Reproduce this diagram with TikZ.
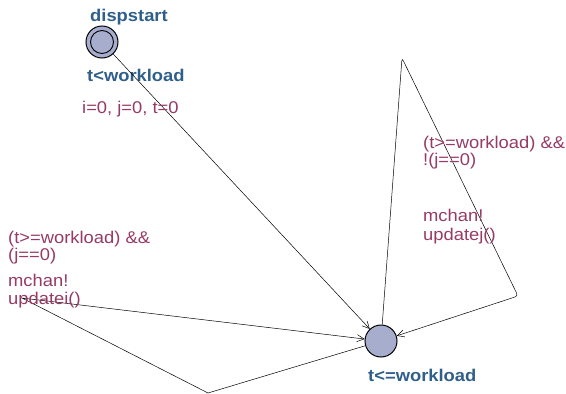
\documentclass[tikz,border=0pt]{standalone}
\usepackage{fontspec}
\setmainfont[FakeStretch=1.08]{Liberation Sans}
\usetikzlibrary{arrows.meta}

\definecolor{locfill}{HTML}{A7AECD}
\definecolor{locname}{HTML}{2F5F8A}
\definecolor{edgelabel}{HTML}{963A66}

\begin{document}
\begin{tikzpicture}[
        x=1pt, y=-1pt,
        location/.style={
            draw,
            circle,
            fill=locfill,
            line width=1pt,
            minimum size=32pt,
            inner sep=0pt
        },
        inner ring/.style={
            draw,
            circle,
            line width=0.9pt,
            minimum size=23pt,
            inner sep=0pt
        },
        locname/.style={
            text=locname,
            font=\fontsize{17}{17}\selectfont\bfseries,
            anchor=base west,
            inner sep=0pt
        },
        edgelabel/.style={
            text=edgelabel,
            font=\fontsize{17}{17}\selectfont,
            anchor=base west,
            align=left,
            inner sep=0pt
        },
        transition/.style={
            draw,
            line width=0.5pt,
            -{Straight Barb[length=7pt,width=7pt]}
        }
    ]
        \useasboundingbox (0,0) rectangle (566,394);

        % Locations
        \node[location] (dispstart) at (102,42) {};
        \node[inner ring] at (dispstart) {};
        \node[location] (working) at (381,341) {};

        % Location names and invariants
        \node[locname] (startname) at (90,21) {dispstart};
        \node[locname] (startinv) at (87,81) {t<workload};
        \node[locname] (workinv) at (368,381) {t<=workload};

        % Bend points
        \coordinate (lowbend) at (208,393);
        \coordinate (leftbend) at (22,298);
        \coordinate (topbend) at (402,58);
        \coordinate (rightbend) at (518,296);

        % Transitions
        \draw[transition] (dispstart) -- (working);
        \draw[transition] (working) -- (lowbend) -- (leftbend) -- (working);
        \draw[transition, rounded corners=3pt] (working) -- (topbend) -- (rightbend) -- (working);

        % Edge labels (base = last line)
        \node[edgelabel] (initupd) at (82,113) {i=0, j=0, t=0};

        \node[edgelabel] (guardi) at (8,260) {(t>=workload) \&\&\\(j==0)};
        \node[edgelabel] (synci) at (8,286) {mchan!};
        \node[edgelabel] (updi) at (8,304) {updatei()};

        \node[edgelabel] (guardj) at (423,165) {(t>=workload) \&\&\\!(j==0)};
        \node[edgelabel] (syncj) at (423,221) {mchan!};
        \node[edgelabel] (updj) at (423,240) {updatej()};
    \end{tikzpicture}
\end{document}
